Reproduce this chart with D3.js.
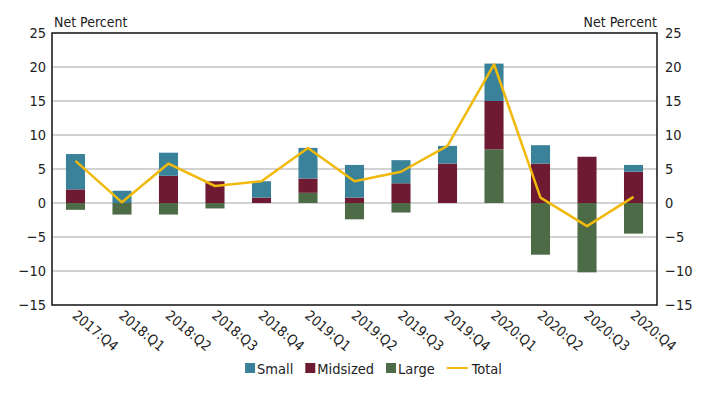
<!DOCTYPE html>
<html>
<head>
<meta charset="utf-8">
<script src="https://cdn.jsdelivr.net/npm/d3@7"></script>
<style>
  body { margin: 0; background: #fff; }
  svg { display: block; font-family: "DejaVu Sans", sans-serif; font-stretch: condensed; }
</style>
</head>
<body>
<svg width="725" height="393"></svg>
<script>
// quarters shown on the x axis
var quarters = ['2017:Q4', '2018:Q1', '2018:Q2', '2018:Q3', '2018:Q4', '2019:Q1', '2019:Q2',
    '2019:Q3', '2019:Q4', '2020:Q1', '2020:Q2', '2020:Q3', '2020:Q4'];

// contributions by bank size, net percent
var small = [5.2, 1.8, 3.4, 0.0, 2.4, 4.5, 4.8, 3.4, 2.6, 5.5, 2.7, 0.0, 1.0];
var midsized = [2.0, 0.0, 4.0, 3.2, 0.8, 2.1, 0.8, 2.9, 5.8, 7.1, 5.8, 6.8, 4.6];
var large = [-1.0, -1.7, -1.7, -0.8, 0.0, 1.5, -2.4, -1.4, 0.0, 7.9, -7.6, -10.2, -4.5];
var total = [6.2, 0.1, 5.8, 2.5, 3.2, 8.1, 3.2, 4.6, 8.4, 20.4, 0.8, -3.4, 0.9];

var yTicks = [-15, -10, -5, 0, 5, 10, 15, 20, 25];
var legendNames = ['Small', 'Midsized', 'Large', 'Total'];

var COLORS = { Small: '#3a8299', Midsized: '#6e1a33', Large: '#4e6b47', Total: '#f0b90c' };

var svg = d3.select('svg');
var margin = { left: 52, right: 68, top: 33, bottom: 88 };
var width = 725 - margin.left - margin.right;
var height = 393 - margin.top - margin.bottom;

var x = d3.scaleBand().domain(quarters).range([margin.left, margin.left + width]).paddingInner(0.59).paddingOuter(0.3);
var y = d3.scaleLinear().domain([-15, 25]).range([margin.top + height, margin.top]);

// gridlines
svg.append('g').selectAll('line')
    .data(yTicks.slice(1, -1))
    .enter().append('line')
    .attr('x1', margin.left).attr('x2', margin.left + width)
    .attr('y1', function (d) { return y(d); })
    .attr('y2', function (d) { return y(d); })
    .attr('stroke', '#a6a6a6').attr('stroke-width', 1.2);

// stack the bars: positive parts go up from zero, negative parts go down
var series = [
    { name: 'Large', values: large },
    { name: 'Midsized', values: midsized },
    { name: 'Small', values: small }
];
var rects = [];
quarters.forEach(function (q, i) {
    var pos = 0, neg = 0;
    series.forEach(function (s) {
        var v = s.values[i];
        if (v === 0) { return; }
        if (v > 0) {
            rects.push({ q: q, name: s.name, y0: pos, y1: pos + v });
            pos += v;
        } else {
            rects.push({ q: q, name: s.name, y0: neg + v, y1: neg });
            neg += v;
        }
    });
});

svg.append('g').selectAll('rect')
    .data(rects)
    .enter().append('rect')
    .attr('x', function (d) { return x(d.q); })
    .attr('width', x.bandwidth())
    .attr('y', function (d) { return y(d.y1); })
    .attr('height', function (d) { return y(d.y0) - y(d.y1); })
    .attr('fill', function (d) { return COLORS[d.name]; });

// total line
var line = d3.line()
    .x(function (d, i) { return x(quarters[i]) + x.bandwidth() / 2; })
    .y(function (d) { return y(d); });
svg.append('path')
    .datum(total)
    .attr('d', line)
    .attr('fill', 'none')
    .attr('stroke', COLORS.Total)
    .attr('stroke-width', 2.5)
    .attr('stroke-linejoin', 'round');

// frame
svg.append('rect')
    .attr('x', margin.left).attr('y', margin.top)
    .attr('width', width).attr('height', height)
    .attr('fill', 'none').attr('stroke', '#111').attr('stroke-width', 1.5);

// left and right axes
var fmt = function (d) { return d < 0 ? '\u2212' + Math.abs(d) : d; };
var yLeft = d3.axisLeft(y).tickValues(yTicks).tickSize(0).tickPadding(6).tickFormat(fmt);
var yRight = d3.axisRight(y).tickValues(yTicks).tickSize(0).tickPadding(8).tickFormat(fmt);

[[yLeft, margin.left], [yRight, margin.left + width]].forEach(function (a) {
    var g = svg.append('g').attr('transform', 'translate(' + a[1] + ',0)').call(a[0]);
    g.select('.domain').remove();
    g.attr('font-family', null).attr('font-size', null);
    g.selectAll('text').attr('font-size', 14.5).attr('fill', '#222');
});

// axis titles
svg.append('text').attr('x', margin.left + 2).attr('y', 27)
    .attr('font-size', 14).attr('fill', '#222').text('Net Percent');
svg.append('text').attr('x', margin.left + width).attr('y', 27)
    .attr('text-anchor', 'end').attr('font-size', 14).attr('fill', '#222').text('Net Percent');

// rotated quarter labels
svg.append('g').selectAll('text')
    .data(quarters)
    .enter().append('text')
    .attr('transform', function (d) {
        return 'translate(' + (x(d) + x.bandwidth() / 2 - 4) + ',' + (margin.top + height + 12) + ') rotate(40)';
    })
    .attr('font-size', 14).attr('fill', '#222')
    .text(function (d) { return d; });

// legend, laid out from measured text widths and centred under the plot
var lg = svg.append('g');
var cursor = 0;
legendNames.forEach(function (name) {
    var isLine = name === 'Total';
    if (isLine) {
        lg.append('line').attr('x1', cursor).attr('x2', cursor + 21).attr('y1', 368).attr('y2', 368)
            .attr('stroke', COLORS.Total).attr('stroke-width', 2);
    } else {
        lg.append('rect').attr('x', cursor).attr('y', 363).attr('width', 10).attr('height', 10)
            .attr('fill', COLORS[name]);
    }
    var t = lg.append('text').attr('x', cursor + (isLine ? 25 : 12)).attr('y', 374)
        .attr('font-size', 14.5).attr('fill', '#222').text(name);
    cursor += (isLine ? 25 : 12) + t.node().getComputedTextLength() + 12;
});
var lw = cursor - 12;
lg.attr('transform', 'translate(' + (373.5 - lw / 2) + ',0)');
</script>
</body>
</html>
